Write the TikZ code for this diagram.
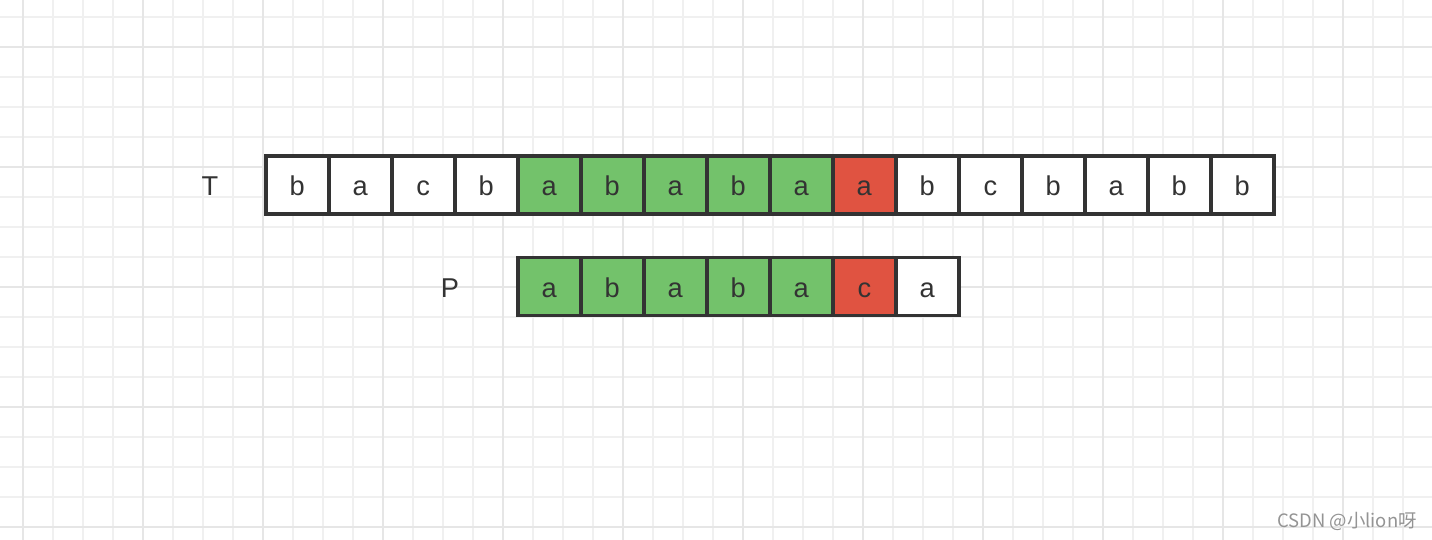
\documentclass[tikz,border=0pt]{standalone}
\usepackage{fontspec}
\setmainfont{Liberation Sans}
\newfontfamily\cjk{Noto Sans CJK SC}
\definecolor{hitgreen}{HTML}{73C26B}
\definecolor{missred}{HTML}{E05341}
\definecolor{ink}{HTML}{333333}
\definecolor{gridminor}{HTML}{F0F0F0}
\definecolor{gridmajor}{HTML}{E6E6E6}

\begin{document}
\begin{tikzpicture}[x=0.02cm,y=-0.02cm,
    cell/.style={draw=ink,line width=3.5*0.02cm,minimum width=63*0.02cm,minimum height=58*0.02cm,
                 inner sep=0pt,text height=12.2pt,text depth=0pt,
                 text=ink,font=\fontsize{15.5}{18}\selectfont},
    label/.style={text=ink,font=\fontsize{15.5}{18}\selectfont}]
        
            \useasboundingbox (0,0) rectangle (1432,540);
            \fill[white] (0,0) rectangle (1432,540);
            
            % grid
            \foreach \k in {0,...,47} {
                \draw[gridminor,line width=1.5*0.02cm] (23+30*\k,0) -- (23+30*\k,540);
            }
            \foreach \k in {0,...,17} {
                \draw[gridminor,line width=1.5*0.02cm] (0,17+30*\k) -- (1432,17+30*\k);
            }
            \foreach \k in {0,...,11} {
                \draw[gridmajor,line width=2*0.02cm] (23+120*\k,0) -- (23+120*\k,540);
            }
            \foreach \k in {0,...,4} {
                \draw[gridmajor,line width=2*0.02cm] (0,47+120*\k) -- (1432,47+120*\k);
            }
            
            \node[label] (T) at (210,186) {T};
            
            \node[label] (P) at (450,288) {P};
            
            \foreach \c/\f [count=\i] in {b/white,a/white,c/white,b/white,a/hitgreen,b/hitgreen,a/hitgreen,b/hitgreen,a/hitgreen,a/missred,b/white,c/white,b/white,a/white,b/white,b/white}
                \node[cell,fill=\f] (t\i) at (297.3+63*\i-63,185) {\c};
            
            \node[text=black!42,font=\cjk\fontsize{10.5}{12}\selectfont,anchor=east] (mark) at (1423,521) {CSDN @小lion呀};
            
            \foreach \c/\f [count=\i] in {a/hitgreen,b/hitgreen,a/hitgreen,b/hitgreen,a/hitgreen,c/missred,a/white}
                \node[cell,fill=\f] (p\i) at (549.3+63*\i-63,286.7) {\c};
            \end{tikzpicture}
\end{document}
